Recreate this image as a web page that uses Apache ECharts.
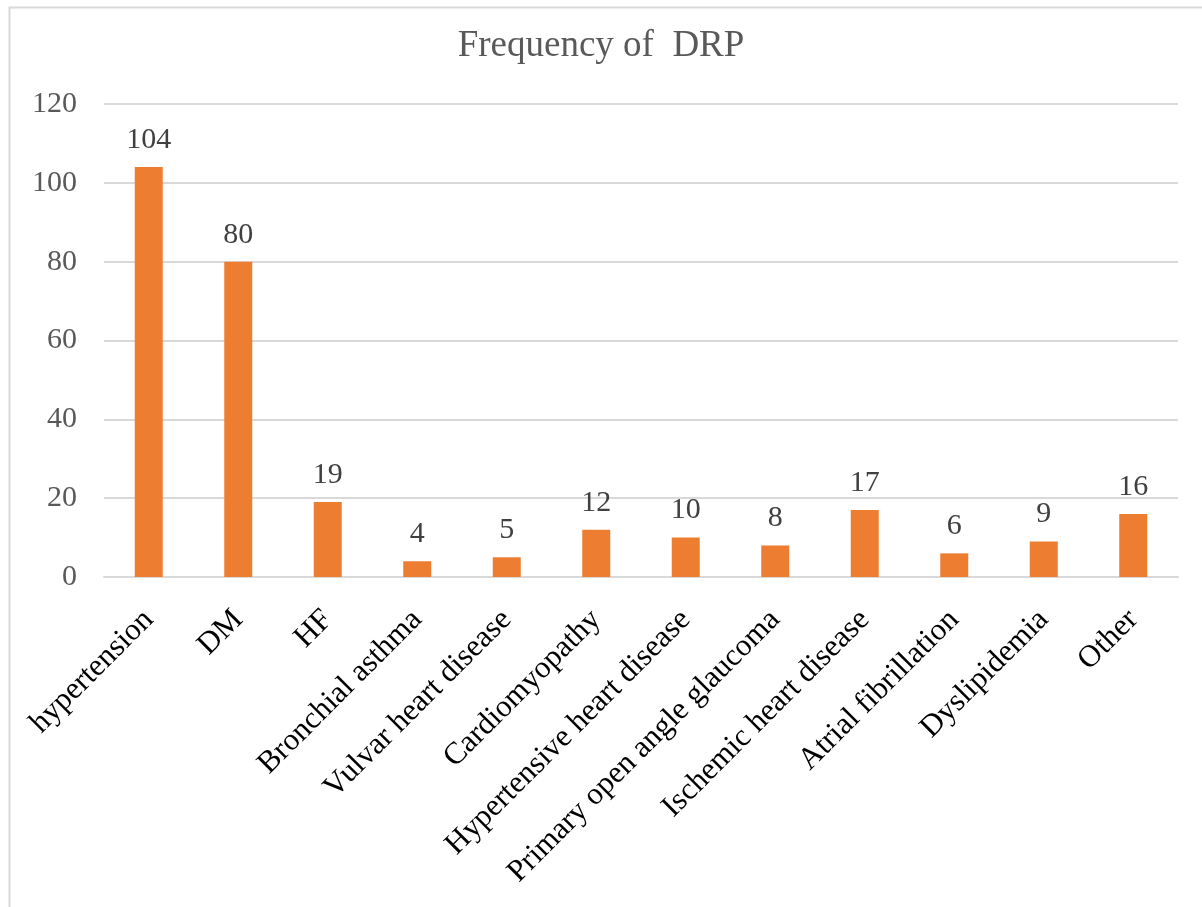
<!DOCTYPE html>
<html>
<head>
<meta charset="utf-8">
<title>Frequency of DRP</title>
<script src="https://cdn.jsdelivr.net/npm/echarts@6/dist/echarts.min.js"></script>
<style>
  html, body { margin: 0; padding: 0; background: #ffffff; }
  #chart { width: 1202px; height: 907px; }
</style>
</head>
<body>
<div id="chart"></div>
<script>
// Conditions and number of drug-related problems recorded for each
const categories = [
  'hypertension', 'DM', 'HF', 'Bronchial asthma', 'Vulvar heart disease',
  'Cardiomyopathy', 'Hypertensive heart disease', 'Primary open angle glaucoma',
  'Ischemic heart disease', 'Atrial fibrillation', 'Dyslipidemia', 'Other'
];
const frequency = [104, 80, 19, 4, 5, 12, 10, 8, 17, 6, 9, 16];

const yTicks = { min: 0, max: 120, interval: 20 };

const serif = "'Liberation Serif', 'Times New Roman', serif";

const chart = echarts.init(document.getElementById('chart'), null, { renderer: 'canvas' });

chart.setOption({
  backgroundColor: '#ffffff',
  animation: false,
  title: {
    text: 'Frequency of  DRP',
    left: 'center',
    top: 23,
    textStyle: { fontFamily: serif, fontSize: 37, fontWeight: 'normal', color: '#595959' }
  },
  graphic: [{
    type: 'rect',
    left: 7, top: 5,
    shape: { width: 1220, height: 940 },
    style: { fill: 'none', stroke: '#d9d9d9', lineWidth: 2 },
    silent: true
  }],
  grid: { left: 104, right: 24, top: 104, bottom: 330, containLabel: false },
  xAxis: {
    type: 'category',
    data: categories,
    axisLine: { show: true, lineStyle: { color: '#d9d9d9', width: 2 } },
    axisTick: { show: false },
    axisLabel: {
      interval: 0,
      rotate: 45,
      margin: 38,
      fontFamily: serif,
      fontSize: 31,
      color: '#000000'
    }
  },
  yAxis: {
    type: 'value',
    min: yTicks.min,
    max: yTicks.max,
    interval: yTicks.interval,
    axisLine: { show: false },
    axisTick: { show: false },
    splitLine: { lineStyle: { color: '#d9d9d9', width: 2 } },
    axisLabel: {
      margin: 27,
      fontFamily: serif,
      fontSize: 30,
      color: '#595959'
    }
  },
  series: [{
    type: 'bar',
    data: frequency,
    barWidth: 28,
    itemStyle: { color: '#ed7d31' },
    label: {
      show: true,
      position: 'top',
      distance: 12,
      fontFamily: serif,
      fontSize: 30,
      color: '#404040'
    }
  }]
});
</script>
</body>
</html>
